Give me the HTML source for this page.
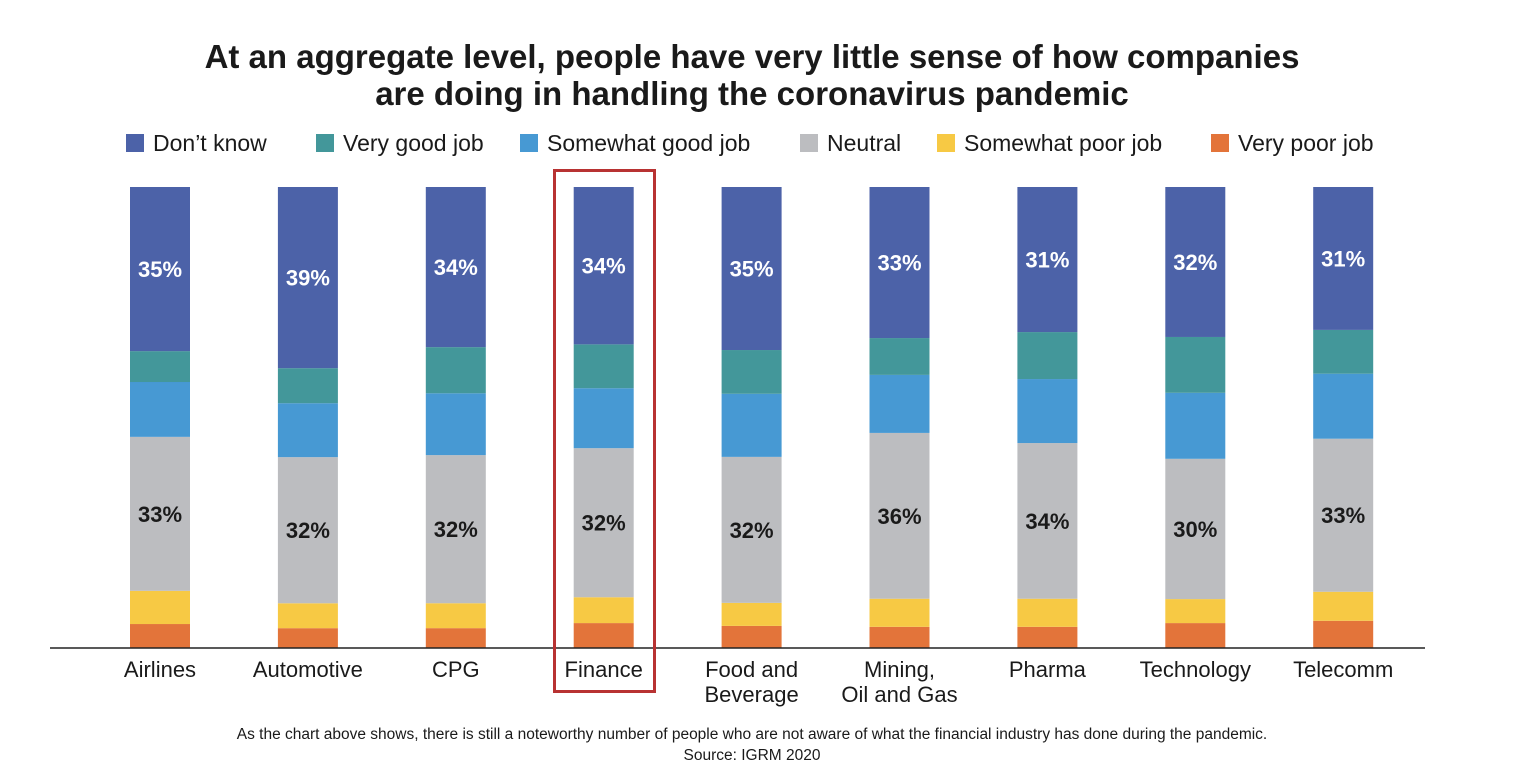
<!DOCTYPE html>
<html><head><meta charset="utf-8"><style>
body{margin:0;background:#fff;}
svg{display:block;font-family:"Liberation Sans",Arial,sans-serif;}
</style></head><body>
<svg id="chart" width="1516" height="784" viewBox="0 0 1516 784">
<text x="752" y="68" text-anchor="middle" font-size="33" font-weight="bold" fill="#1a1a1a">At an aggregate level, people have very little sense of how companies</text>
<text x="752" y="105" text-anchor="middle" font-size="33" font-weight="bold" fill="#1a1a1a">are doing in handling the coronavirus pandemic</text>
<g id="legend"></g>
<g id="bars"></g>
<line x1="50" y1="648" x2="1425" y2="648" stroke="#222" stroke-width="1.5"/>
<g id="xlabels"></g>
<rect x="554.5" y="170.5" width="100" height="521" fill="none" stroke="#b83232" stroke-width="3"/>
<text x="752" y="739" text-anchor="middle" font-size="15.5" fill="#1a1a1a">As the chart above shows, there is still a noteworthy number of people who are not aware of what the financial industry has done during the pandemic.</text>
<text x="752" y="760" text-anchor="middle" font-size="15.5" fill="#1a1a1a">Source: IGRM 2020</text>
</svg>
<script>
const categories=["Airlines","Automotive","CPG","Finance","Food and Beverage","Mining, Oil and Gas","Pharma","Technology","Telecomm"];
const seriesNames=["Don’t know","Very good job","Somewhat good job","Neutral","Somewhat poor job","Very poor job"];
const dontKnow=[35.6,39.3,34.7,34.1,35.4,32.8,31.5,32.5,31.0];
const veryGood=[6.7,7.6,10.0,9.5,9.5,8.0,10.2,12.1,9.5];
const somewhatGood=[11.9,11.7,13.4,13.0,13.7,12.6,13.9,14.3,14.1];
const neutral=[33.4,31.7,32.1,32.3,31.7,36.0,33.8,30.4,33.2];
const somewhatPoor=[7.2,5.4,5.4,5.6,5.0,6.1,6.1,5.2,6.3];
const veryPoor=[5.2,4.3,4.3,5.4,4.8,4.6,4.6,5.4,5.9];
const dontKnowLabels=["35%","39%","34%","34%","35%","33%","31%","32%","31%"];
const neutralLabels=["33%","32%","32%","32%","32%","36%","34%","30%","33%"];
const colors=["#4c62a8","#43979a","#4799d3","#bcbdc0","#f7c944","#e3743a"];
const NS="http://www.w3.org/2000/svg";
const base=648, top0=187;
const series=[dontKnow,veryGood,somewhatGood,neutral,somewhatPoor,veryPoor];
function xc(i){return 160+i*147.9;}
function mk(tag,attrs,parent){const e=document.createElementNS(NS,tag);for(const k in attrs)e.setAttribute(k,attrs[k]);parent.appendChild(e);return e;}
const bars=document.getElementById('bars');
categories.forEach((c,i)=>{
  const total=series.reduce((s,a)=>s+a[i],0);
  const yScale=v=>v/total*(base-top0);
  let y=base;
  const segs=[];
  for(let s=series.length-1;s>=0;s--){
    const h=yScale(series[s][i]);y-=h;
    const r=mk('rect',{x:xc(i)-30,y:y,width:60,height:h,fill:colors[s]},bars);
    
    
    segs[s]={y:y,h:h};
  }
  const t1=mk('text',{x:xc(i),y:segs[0].y+segs[0].h/2+8,'text-anchor':'middle','font-size':22,'font-weight':'bold',fill:'#fff'},bars);
  t1.textContent=dontKnowLabels[i];
  
  
  const t2=mk('text',{x:xc(i),y:segs[3].y+segs[3].h/2+8,'text-anchor':'middle','font-size':22,'font-weight':'bold',fill:'#1a1a1a'},bars);
  t2.textContent=neutralLabels[i];
  
  
});
const xl=document.getElementById('xlabels');
const labelLines=[["Airlines"],["Automotive"],["CPG"],["Finance"],["Food and","Beverage"],["Mining,","Oil and Gas"],["Pharma"],["Technology"],["Telecomm"]];
categories.forEach((c,i)=>{
  labelLines[i].forEach((ln,j)=>{
    const t=mk('text',{x:xc(i),y:677+j*25,'text-anchor':'middle','font-size':22,fill:'#1a1a1a'},xl);
    t.textContent=ln;
    
    
  });
});
const lg=document.getElementById('legend');
const lx=[126,316,520,800,937,1211];
seriesNames.forEach((n,i)=>{
  const r=mk('rect',{x:lx[i],y:134,width:18,height:18,fill:colors[i]},lg);
  
  
  const t=mk('text',{x:lx[i]+27,y:151,'font-size':23,fill:'#1a1a1a'},lg);
  t.textContent=n;
  
  
});
</script>
</body></html>
